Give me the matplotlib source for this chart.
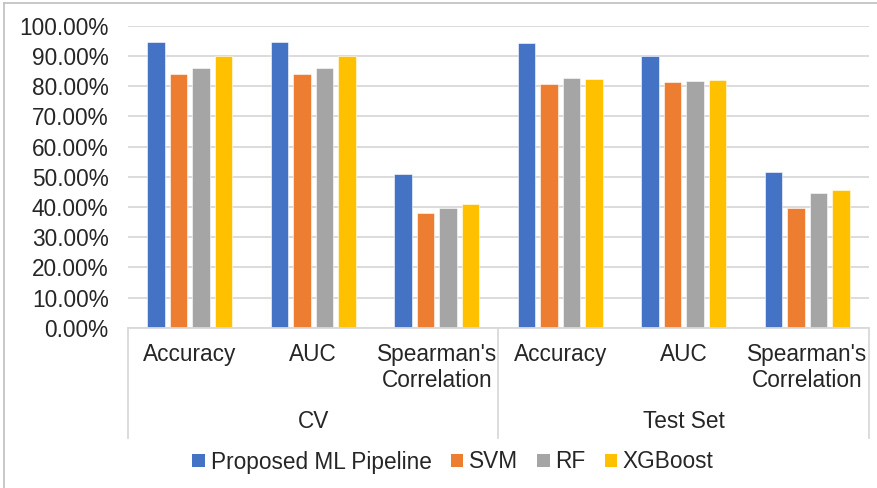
import matplotlib
matplotlib.use("Agg")
import matplotlib.pyplot as plt
from matplotlib.lines import Line2D
from matplotlib.patches import Patch
from matplotlib.ticker import PercentFormatter, MultipleLocator
import matplotlib.transforms as mtransforms
import numpy as np

plt.rcParams['font.family'] = ['Liberation Sans', 'DejaVu Sans']

metrics = ["Accuracy", "AUC", "Spearman's\nCorrelation"]
groups = ["CV", "Test Set"]
models = ["Proposed ML Pipeline", "SVM", "RF", "XGBoost"]
colors = ["#4472C4", "#ED7D31", "#A5A5A5", "#FFC000"]

# values per model, ordered CV (Acc, AUC, Spearman) then Test Set (Acc, AUC, Spearman)
proposed = [0.945, 0.945, 0.508, 0.942, 0.901, 0.517]
svm      = [0.840, 0.840, 0.379, 0.806, 0.815, 0.397]
rf       = [0.859, 0.859, 0.397, 0.826, 0.818, 0.445]
xgboost  = [0.899, 0.899, 0.409, 0.823, 0.820, 0.457]
series = [proposed, svm, rf, xgboost]

FS = 16.3
W, H = 878, 488
fig = plt.figure(figsize=(W / 100, H / 100), dpi=100)
ax = fig.add_axes([128 / W, 1 - 327.7 / H, (869 - 128) / W, (327.7 - 25.8) / H])

n_cat = len(groups) * len(metrics)
x = np.arange(n_cat)
pitch, width = 0.182, 0.142
for i, (vals, c) in enumerate(zip(series, colors)):
    ax.bar(x + (i - 1.5) * pitch, vals, width=width, color=c,
           edgecolor="white", linewidth=0.4, zorder=3, label=models[i])

ax.set_xlim(-0.5, n_cat - 0.5)
ax.set_ylim(0, 1.0)
ax.yaxis.set_major_locator(MultipleLocator(0.1))
ax.yaxis.set_major_formatter(PercentFormatter(1.0, decimals=2))
ax.tick_params(axis="y", length=0, pad=14, labelsize=FS, labelcolor="#262626")
ax.set_xticks([])
ax.grid(axis="y", color="#D9D9D9", linewidth=1.3, zorder=0)
for s in ax.spines.values():
    s.set_visible(False)

# category axis: baseline and group separators
blend = mtransforms.blended_transform_factory(ax.transData, fig.transFigure)
y_base = 1 - 327.7 / H
y_low = 1 - 438 / H
ax.add_line(Line2D([-0.5, n_cat - 0.5], [y_base, y_base], transform=blend,
                   color="#D9D9D9", linewidth=1.3, clip_on=False, zorder=4))
for xv in [-0.5, len(metrics) - 0.5, n_cat - 0.5]:
    ax.add_line(Line2D([xv, xv], [y_base, y_low], transform=blend,
                       color="#D9D9D9", linewidth=1.3, clip_on=False))

labels = metrics * len(groups)
for xi, lab in zip(x, labels):
    ax.text(xi, 1 - 343 / H, lab, transform=blend, ha="center", va="top",
            fontsize=FS, color="#262626", linespacing=1.15)
for gi, g in enumerate(groups):
    xc = gi * len(metrics) + (len(metrics) - 1) / 2
    ax.text(xc, 1 - 422 / H, g, transform=blend, ha="center", va="center",
            fontsize=FS, color="#262626")

handles = [Patch(facecolor=c, edgecolor="none") for c in colors]
fig.legend(handles, models, loc="center", bbox_to_anchor=(453 / W, 1 - 462 / H),
           ncol=4, frameon=False, fontsize=FS, handlelength=0.55, handleheight=0.55,
           handletextpad=0.25, columnspacing=0.85, labelcolor="#262626")

# chart area border
fig.add_artist(Line2D([4 / W, 1], [1 - 3 / H, 1 - 3 / H], transform=fig.transFigure,
                      color="#BFBFBF", linewidth=1.2))
fig.add_artist(Line2D([4 / W, 4 / W], [0, 1 - 3 / H], transform=fig.transFigure,
                      color="#BFBFBF", linewidth=1.2))

fig.savefig("out.png", dpi=100, facecolor="white")
